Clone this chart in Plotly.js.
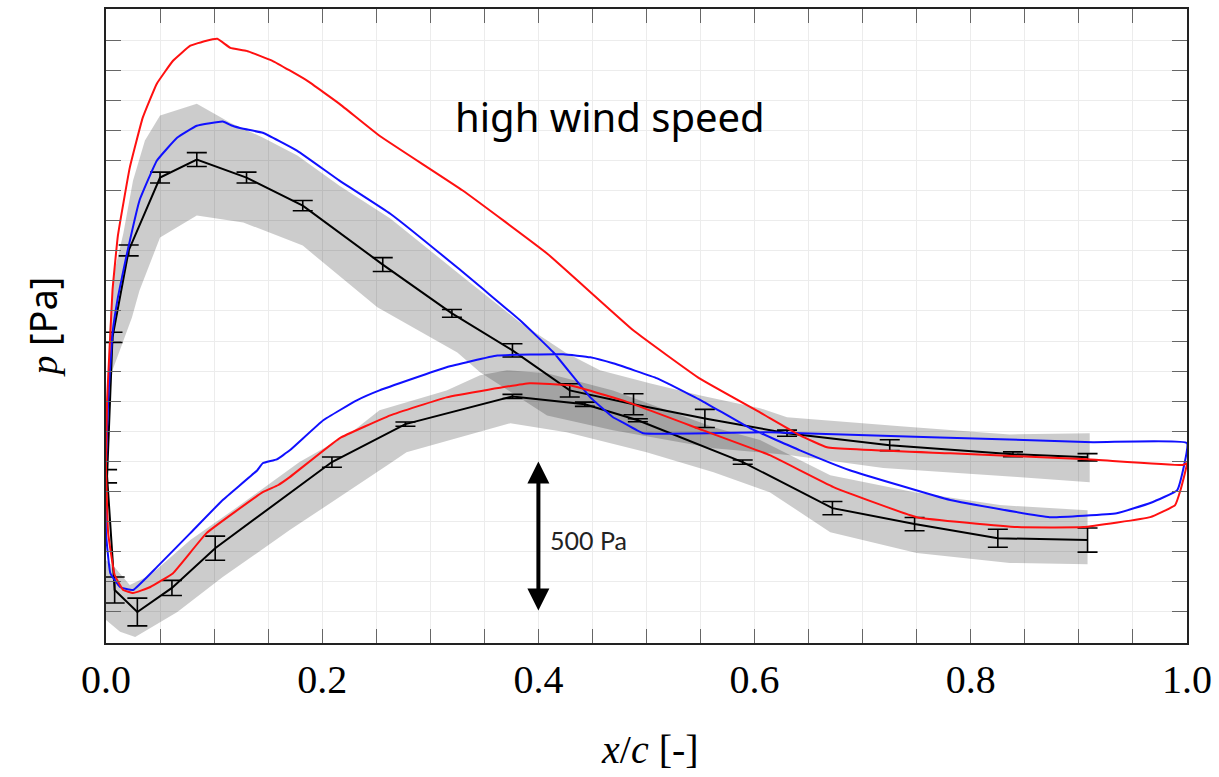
<!DOCTYPE html>
<html>
<head>
<meta charset="utf-8">
<script src="https://cdn.plot.ly/plotly-3.0.1.min.js"></script>
<style>html,body{margin:0;padding:0;background:#fff;}#chart{width:1219px;height:777px;}</style>
</head>
<body>
<div id="chart"></div>
<script>
// ---- axis ticks ----
const xTickVals = [0,0.05,0.1,0.15,0.2,0.25,0.3,0.35,0.4,0.45,0.5,0.55,0.6,0.65,0.7,0.75,0.8,0.85,0.9,0.95,1.0];
const xTickText = ['0.0','','','','0.2','','','','0.4','','','','0.6','','','','0.8','','','','1.0'];
const yTickVals = [0,100,200,300,400,500,600,700,800,900,1000,1100,1200,1300,1400,1500,1600,1700,1800,1900];

// ---- experiment (black, with error bars) : pressure side TE->LE, suction side LE->TE ----
const expPressX = [0.908,0.825,0.748,0.672,0.589,0.492,0.443,0.376,0.277,0.209,0.101,0.061,0.029,0.008];
const expPressY = [239,245,292,345,498,637,690,716,624,498,212,80,0,73];
const expPressErr = [40,30,22,22,7,5,7,7,7,17,40,25,46,43];
const expSuctX = [0.001,0.006,0.021,0.050,0.084,0.130,0.182,0.256,0.320,0.376,0.429,0.488,0.554,0.630,0.725,0.839,0.908];
const expSuctY = [451,912,1201,1443,1503,1443,1350,1154,992,869,736,690,643,594,554,524,514];
const expSuctErr = [22,17,18,18,23,18,17,23,13,22,22,35,30,10,18,8,12];

// ---- grey uncertainty bands ----
const suctBandUpperX = [0.001,0.001,0.003,0.008,0.016,0.025,0.036,0.050,0.084,0.115,0.145,0.177,0.216,0.263,0.325,0.383,0.425,0.457,0.503,0.549,0.605,0.630,0.735,0.836,0.910];
const suctBandUpperY = [451,703,935,1134,1257,1433,1566,1649,1688,1625,1576,1516,1416,1307,1128,962,862,803,760,720,677,647,617,590,594];
const suctBandLowerX = [0.001,0.001,0.006,0.018,0.024,0.031,0.050,0.084,0.127,0.182,0.251,0.325,0.346,0.408,0.469,0.562,0.596,0.633,0.719,0.843,0.910];
const suctBandLowerY = [451,604,803,919,978,1068,1244,1317,1294,1217,1012,862,796,653,604,544,534,521,478,448,431];
const pressBandUpperX = [0.0,0.008,0.022,0.041,0.078,0.124,0.179,0.226,0.253,0.315,0.346,0.371,0.408,0.469,0.562,0.605,0.670,0.748,0.827,0.908];
const pressBandUpperY = [172,149,90,123,239,355,498,594,670,736,786,803,793,736,614,571,454,398,355,338];
const pressBandLowerX = [0.0,0.013,0.027,0.066,0.108,0.170,0.263,0.278,0.374,0.426,0.500,0.562,0.614,0.670,0.750,0.836,0.908];
const pressBandLowerY = [-27,-66,-83,0,116,272,494,531,627,597,531,464,398,265,196,163,159];

// ---- simulation, red ----
const redX = [1.0,0.994,0.989,0.966,0.904,0.843,0.750,0.673,0.614,0.552,0.478,0.429,0.392,0.315,0.263,0.216,0.170,0.159,0.145,0.093,0.062,0.041,0.025,0.016,0.008,0.002,0.0,
              0.001,0.004,0.006,0.011,0.022,0.034,0.047,0.062,0.078,0.092,0.103,0.115,0.130,0.154,0.186,0.216,0.253,0.330,0.408,0.488,0.549,0.605,0.642,0.667,0.781,0.908,0.996,1.0];
const redY = [494,405,355,315,282,282,315,415,521,604,703,753,760,713,653,577,448,421,398,262,129,83,63,73,123,262,481,
              703,925,1068,1250,1476,1642,1755,1831,1881,1897,1904,1874,1864,1831,1765,1688,1582,1400,1191,935,776,663,587,547,527,507,488,494];

// ---- simulation, blue ----
const blueX = [1.0,0.991,0.966,0.935,0.873,0.781,0.688,0.642,0.596,0.552,0.510,0.469,0.448,0.423,0.362,0.315,0.253,0.232,0.201,0.170,0.158,0.145,0.140,0.108,0.078,0.047,0.025,0.013,0.004,0.0,0.0,
               0.002,0.006,0.011,0.019,0.031,0.047,0.066,0.084,0.108,0.117,0.127,0.145,0.177,0.216,0.263,0.325,0.383,0.414,0.448,0.469,0.478,0.497,0.614,0.913,1.0];
const blueY = [561,405,362,328,315,372,471,537,610,700,776,826,846,856,852,813,736,703,637,537,507,494,471,372,262,149,73,83,129,262,481,
               703,925,1045,1184,1367,1499,1576,1615,1629,1615,1605,1592,1532,1433,1323,1144,969,862,713,647,630,594,597,564,561];

// ---- annotation values ----
const arrowBase = 0;
const arrowSpan = 500;
const arrowXc = 0.4;

const bandFill = 'rgba(0,0,0,0.2)';
const traces = [
  {x: suctBandUpperX.concat(suctBandLowerX.slice().reverse()),
   y: suctBandUpperY.concat(suctBandLowerY.slice().reverse()),
   type:'scatter', mode:'lines', fill:'toself', fillcolor:bandFill, line:{width:0}, hoverinfo:'skip', showlegend:false},
  {x: pressBandUpperX.concat(pressBandLowerX.slice().reverse()),
   y: pressBandUpperY.concat(pressBandLowerY.slice().reverse()),
   type:'scatter', mode:'lines', fill:'toself', fillcolor:bandFill, line:{width:0}, hoverinfo:'skip', showlegend:false},
  {x: expPressX.concat(expSuctX), y: expPressY.concat(expSuctY),
   type:'scatter', mode:'lines', line:{color:'#000', width:2},
   error_y:{type:'data', array: expPressErr.concat(expSuctErr), visible:true, color:'#000', thickness:1.6, width:10},
   showlegend:false},
  {x: blueX, y: blueY, type:'scatter', mode:'lines', line:{color:'#1010ff', width:2, shape:'spline', smoothing:0.3}, showlegend:false},
  {x: redX, y: redY, type:'scatter', mode:'lines', line:{color:'#ff1010', width:2, shape:'spline', smoothing:0.3}, showlegend:false}
];

const axisCommon = {
  ticks:'inside', tickcolor:'#666', tickwidth:1,
  showgrid:true, gridcolor:'#ececec', gridwidth:1,
  showline:true, linecolor:'#222', linewidth:2, mirror:'ticks', zeroline:false
};

const layout = {
  width:1219, height:777,
  margin:{l:106, r:32, t:9, b:134},
  paper_bgcolor:'#fff', plot_bgcolor:'#fff',
  showlegend:false,
  xaxis: Object.assign({}, axisCommon, {
    range:[0,1], tickmode:'array', tickvals:xTickVals, ticktext:xTickText, ticklen:14,
    tickfont:{family:'Liberation Serif, DejaVu Serif, serif', size:40, color:'#000'}
  }),
  yaxis: Object.assign({}, axisCommon, {
    range:[-103,2003], tickmode:'array', tickvals:yTickVals, showticklabels:false, ticklen:15
  }),
  annotations:[
    {xref:'paper', yref:'paper', x:0.466, y:0.831, xanchor:'center', yanchor:'middle', showarrow:false,
     text:'high wind speed', font:{family:'Noto Sans, Open Sans, sans-serif', size:40, color:'#000'}},
    {xref:'paper', yref:'paper', x:0.409, y:0.163, xanchor:'left', yanchor:'middle', showarrow:false,
     text:'500 Pa', font:{family:'Lato, Noto Sans, sans-serif', size:25, color:'#222'}},
    {xref:'x', yref:'y', axref:'x', ayref:'y', x:arrowXc, y:arrowBase+arrowSpan, ax:arrowXc, ay:arrowBase,
     text:'', showarrow:true, arrowside:'end+start', arrowhead:2, startarrowhead:2, arrowsize:1.1, startarrowsize:1.1,
     arrowwidth:4, arrowcolor:'#000', standoff:0, startstandoff:0},
    {xref:'paper', yref:'paper', x:0.503, y:-0.168, xanchor:'center', yanchor:'middle', showarrow:false,
     text:'<i>x</i>/<i>c</i> [-]', font:{family:'Liberation Serif, DejaVu Serif, serif', size:40, color:'#000'}},
    {xref:'paper', yref:'paper', x:-0.0592, y:0.4976, xanchor:'center', yanchor:'middle', showarrow:false, textangle:-90,
     text:'<i>p</i> <span style="font-family:Noto Sans">[Pa]</span>', font:{family:'Liberation Serif, DejaVu Serif, serif', size:38, color:'#000'}}
  ]
};

Plotly.newPlot('chart', traces, layout, {displayModeBar:false, staticPlot:true});
</script>
</body>
</html>
